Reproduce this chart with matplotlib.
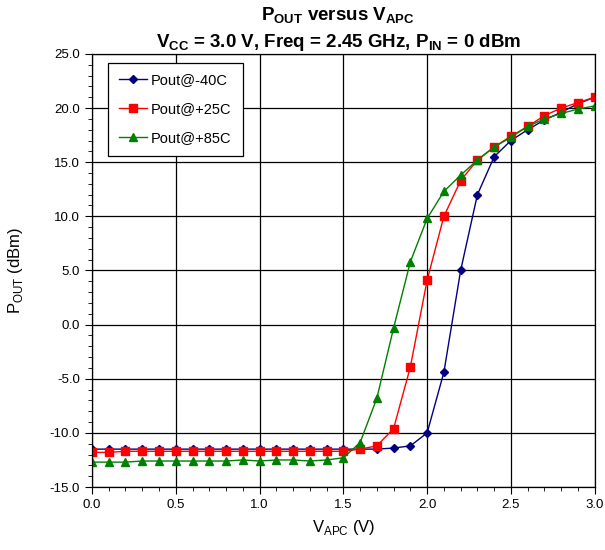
import numpy as np
import matplotlib
matplotlib.use("Agg")
import matplotlib.pyplot as plt
from matplotlib.ticker import MultipleLocator, FormatStrFormatter

plt.rcParams['font.family'] = ['Liberation Sans', 'DejaVu Sans']
plt.rcParams['mathtext.fontset'] = 'custom'
plt.rcParams['mathtext.rm'] = 'Liberation Sans'
plt.rcParams['mathtext.bf'] = 'Liberation Sans:bold'

v_apc = [0.0, 0.1, 0.2, 0.3, 0.4, 0.5, 0.6, 0.7, 0.8, 0.9, 1.0,
         1.1, 1.2, 1.3, 1.4, 1.5, 1.6, 1.7, 1.8, 1.9, 2.0,
         2.1, 2.2, 2.3, 2.4, 2.5, 2.6, 2.7, 2.8, 2.9, 3.0]

pout_m40 = [-11.5, -11.5, -11.5, -11.5, -11.5, -11.5, -11.5, -11.5, -11.5, -11.5, -11.5,
            -11.5, -11.5, -11.5, -11.5, -11.5, -11.5, -11.5, -11.4, -11.2, -10.0,
            -4.4, 5.0, 12.0, 15.5, 17.0, 18.0, 18.9, 19.6, 20.4, 21.0]

pout_p25 = [-11.8, -11.8, -11.7, -11.7, -11.7, -11.7, -11.7, -11.7, -11.7, -11.7, -11.7,
            -11.7, -11.7, -11.7, -11.7, -11.7, -11.5, -11.2, -9.6, -3.9, 4.1,
            10.0, 13.3, 15.2, 16.4, 17.4, 18.3, 19.3, 20.0, 20.5, 21.0]

pout_p85 = [-12.7, -12.7, -12.7, -12.6, -12.6, -12.6, -12.6, -12.6, -12.6, -12.5, -12.6,
            -12.5, -12.5, -12.6, -12.5, -12.3, -10.9, -6.8, -0.3, 5.8, 9.8,
            12.3, 13.8, 15.2, 16.4, 17.3, 18.3, 19.0, 19.5, 19.9, 20.2]

labels = ['Pout@-40C', 'Pout@+25C', 'Pout@+85C']

fig = plt.figure(figsize=(6.05, 5.5), dpi=100)
ax = fig.add_axes([0.152, 0.1145, 0.831, 0.7875])

ax.plot(v_apc, pout_m40, color='#000080', marker='D', markersize=4.5, lw=1.0, label=labels[0])
ax.plot(v_apc, pout_p25, color='#FF0000', marker='s', markersize=6, lw=1.0, label=labels[1])
ax.plot(v_apc, pout_p85, color='#008000', marker='^', markersize=6, lw=1.0, label=labels[2])

ax.set_xlim(0, 3.0)
ax.set_ylim(-15, 25)
ax.xaxis.set_major_locator(MultipleLocator(0.5))
ax.xaxis.set_minor_locator(MultipleLocator(0.1))
ax.yaxis.set_major_locator(MultipleLocator(5))
ax.yaxis.set_minor_locator(MultipleLocator(1))
ax.xaxis.set_major_formatter(FormatStrFormatter('%.1f'))
ax.yaxis.set_major_formatter(FormatStrFormatter('%.1f'))
ax.tick_params(which='both', direction='out', labelsize=9.5, color='black')
ax.tick_params(which='major', length=5)
ax.tick_params(which='minor', length=3)
ax.grid(True, which='major', color='black', lw=0.9)
for s in ax.spines.values():
    s.set_color('black')
    s.set_linewidth(0.9)

ax.set_xlabel(r'V$_{\mathrm{APC}}$ (V)', fontsize=12, labelpad=5)
ax.set_ylabel(r'P$_{\mathrm{OUT}}$ (dBm)', fontsize=12, labelpad=18)
fig.text(0.559, 0.972, r'$\mathbf{P_{OUT}}$ versus $\mathbf{V_{APC}}$', ha='center', va='center',
         fontsize=13.5, fontweight='bold')
fig.text(0.559, 0.923, r'$\mathbf{V_{CC}}$ = 3.0 V, Freq = 2.45 GHz, $\mathbf{P_{IN}}$ = 0 dBm',
         ha='center', va='center', fontsize=13.5, fontweight='bold')

leg = ax.legend(loc='upper left', bbox_to_anchor=(0.032, 0.98), borderaxespad=0,
                fontsize=10.5, frameon=True,
                fancybox=False, edgecolor='black', framealpha=1, borderpad=0.75,
                labelspacing=1.0, handlelength=1.9, handletextpad=0.3)
leg.get_frame().set_linewidth(0.9)

fig.savefig('out.png', dpi=100)
